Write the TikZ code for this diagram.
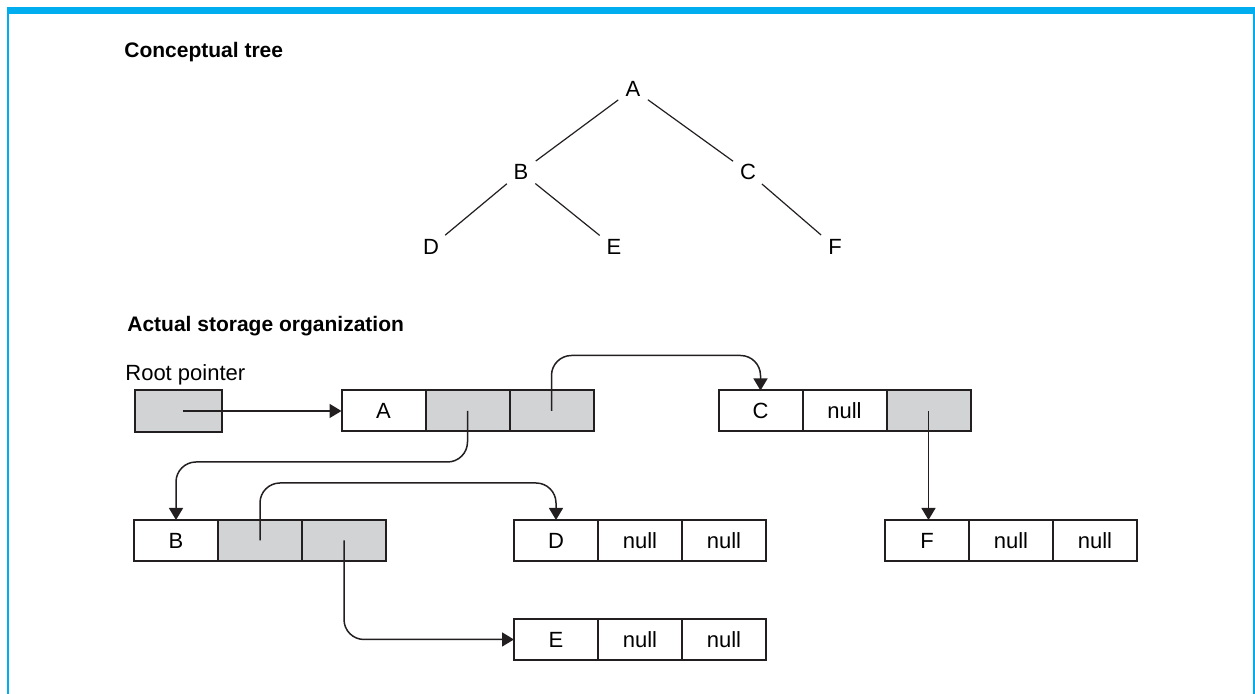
\documentclass[tikz,border=0pt]{standalone}
\usepackage{fontspec}
\setmainfont{Liberation Sans}
\usetikzlibrary{arrows.meta, positioning, calc}
\definecolor{framecyan}{HTML}{00AEEF}
\definecolor{cellgray}{HTML}{D1D3D4}
\definecolor{inkgray}{HTML}{231F20}

\begin{document}
\begin{tikzpicture}[
    x=0.5pt, y=0.5pt,
    font=\fontsize{11}{13}\selectfont,
    title/.style={anchor=base west, inner sep=0pt, font=\fontsize{10.5}{12}\selectfont\bfseries},
    treenode/.style={circle, inner sep=0pt, minimum size=18pt},
    treeedge/.style={draw=inkgray, line width=0.6pt},
    cell/.style={rectangle, draw=inkgray, line width=1pt, minimum width=42pt,
      minimum height=20.5pt, inner sep=0pt, outer sep=0pt},
    ptrcell/.style={cell, fill=cellgray},
    link/.style={draw=inkgray, line width=0.75pt, rounded corners=10pt,
      -{Triangle[length=6pt, width=7pt]}},
  ]
  \useasboundingbox (0,0) rectangle (1255,694);
  % frame
  \fill[framecyan] (7,680) rectangle (1255,687);
  \draw[framecyan, line width=1pt] (7.5,0) -- (7.5,687) (1253.5,0) -- (1253.5,680);

  % conceptual tree
  \node[title] (ctitle) at (124,636) {Conceptual tree};
  \node[treenode] (tA) at (633,605) {A};
  \node[treenode] (tB) at (521,522) {B};
  \node[treenode] (tC) at (748,522) {C};
  \node[treenode] (tD) at (431,447) {D};
  \node[treenode] (tE) at (614,447) {E};
  \node[treenode] (tF) at (835,447) {F};

  \draw[treeedge] (tA) -- (tB);
  \draw[treeedge] (tA) -- (tC);
  \draw[treeedge] (tB) -- (tD);
  \draw[treeedge] (tB) -- (tE);
  \draw[treeedge] (tC) -- (tF);

  % storage organization
  \node[title] (stitle) at (127,362) {Actual storage organization};
  \node[anchor=base west, inner sep=0pt] (rootlabel) at (125,313) {Root pointer};
  \node[ptrcell, minimum width=43.5pt, minimum height=21pt] (root) at (178.5,283) {};

  \node[cell]                    (A)  at (383.5,283) {A};
  \node[ptrcell, right=0pt of A]  (Al) {};
  \node[ptrcell, right=0pt of Al] (Ar) {};

  \node[cell]                    (C)  at (760.5,283) {C};
  \node[cell, right=0pt of C]     (Cl) {null};
  \node[ptrcell, right=0pt of Cl] (Cr) {};

  \node[cell]                    (B)  at (176,153.5) {B};
  \node[ptrcell, right=0pt of B]  (Bl) {};
  \node[ptrcell, right=0pt of Bl] (Br) {};

  \node[cell]                    (D)  at (556,153.5) {D};
  \node[cell, right=0pt of D]     (Dl) {null};
  \node[cell, right=0pt of Dl]    (Dr) {null};

  \node[cell]                    (F)  at (927,153.5) {F};
  \node[cell, right=0pt of F]     (Fl) {null};
  \node[cell, right=0pt of Fl]    (Fr) {null};

  \node[cell]                    (E)  at (556,54.5) {E};
  \node[cell, right=0pt of E]     (El) {null};
  \node[cell, right=0pt of El]    (Er) {null};

  \draw[link, rounded corners=0pt] ([xshift=2pt]root.center) -- (A.west);
  \draw[link] (Al.center) |- ($(B.north)+(0,58)$) -- (B.north);
  \draw[link] (Ar.center) |- ($(C.north)+(0,35)$) -- (C.north);
  \draw[link] (Cr.center) -- (Cr.center |- F.north);
  \draw[link] (Bl.center) |- ($(D.north)+(0,37)$) -- (D.north);
  \draw[link] (Br.center) |- (E.west);
\end{tikzpicture}
\end{document}
